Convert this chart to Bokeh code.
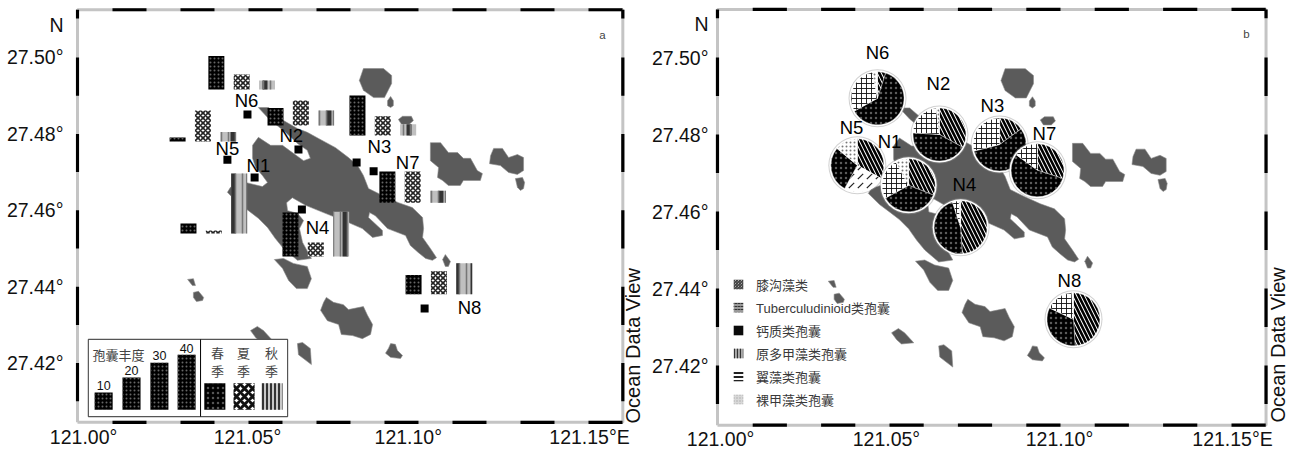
from math import pi
from bokeh.plotting import figure
from bokeh.layouts import row
from bokeh.models import FixedTicker, Label, Legend, LegendItem, ColumnDataSource
from bokeh.core.properties import value
from bokeh.embed import file_html
from bokeh.resources import INLINE

stations = ["N1", "N2", "N3", "N4", "N5", "N6", "N7", "N8"]

# panel a: sampling stations
station_lon = [121.0518, 121.0647, 121.0818, 121.0657, 121.0438, 121.0497, 121.0868, 121.1018]
station_lat = [27.4686, 27.4759, 27.4725, 27.4602, 27.4732, 27.4851, 27.4702, 27.4343]
label_a_lon = [121.0529, 121.0626, 121.0885, 121.0703, 121.0438, 121.0494, 121.0968, 121.1150]
label_a_lat = [27.4717, 27.4796, 27.4767, 27.4555, 27.4762, 27.4887, 27.4725, 27.4345]

# panel a: cyst abundance per season, bars anchored per station
spring = [6.3, 11, 25, 27.5, 2.5, 21, 19.4, 12]
summer = [1.9, 15.6, 12, 8.8, 19.4, 9.4, 19.4, 14.4]
autumn = [37.5, 9.4, 7, 28, 6, 5.6, 7.5, 19.4]
bar_lon = [121.0300, 121.0556, 121.0797, 121.0600, 121.0268, 121.0382, 121.0885, 121.0962]
bar_lat = [27.4539, 27.4822, 27.4796, 27.4479, 27.4780, 27.4916, 27.4620, 27.4380]

# panel b: pie centres, labels and composition (%)
pie_lon = [121.0556, 121.0646, 121.0822, 121.0708, 121.0406, 121.0465, 121.0933, 121.1038]
pie_lat = [27.4668, 27.4800, 27.4774, 27.4559, 27.4720, 27.4894, 27.4707, 27.4320]
label_b_lon = [121.0500, 121.0643, 121.0801, 121.0719, 121.0389, 121.0465, 121.0953, 121.1026]
label_b_lat = [27.4782, 27.4932, 27.4875, 27.4670, 27.4818, 27.5013, 27.4803, 27.4421]
gonyaulacoid = [31, 33, 15, 49, 33, 5, 30, 49]
tuberculo = [0, 0, 0, 0, 25, 0, 0, 0]
calcareous = [36, 43, 56, 46, 28, 62, 55, 33]
protoperidinioid = [25, 22, 29, 4, 0, 30, 15, 17]
pterid = [0, 0, 0, 0, 0, 0, 0, 0]
gymnodinioid = [8, 2, 0, 1, 14, 3, 0, 1]
type_names = ["膝沟藻类", "Tuberculudinioid类孢囊", "钙质类孢囊", "原多甲藻类孢囊", "翼藻类孢囊", "裸甲藻类孢囊"]

# land
coast_lon = [
    [121.0529,121.0559,121.0603,121.0644,121.0673,121.0706,121.0756,121.0794,121.0821,121.0838,121.0853,121.0894,
     121.0941,121.0982,121.1012,121.1015,121.1012,121.1035,121.1053,121.1041,121.1021,121.1000,121.0976,121.0962,
     121.0909,121.0873,121.0856,121.0853,121.0894,121.0894,121.0865,121.0835,121.0794,121.0726,121.0668,121.0629,
     121.0612,121.0615,121.0644,121.0662,121.0650,121.0659,121.0685,121.0644,121.0603,121.0579,121.0556,121.0529,
     121.0500,121.0471,121.0447,121.0438,121.0447,121.0491,121.0541,121.0556,121.0541,121.0521,121.0512,121.0512,
     121.0529,121.0565,121.0600,121.0632,121.0662,121.0682,121.0673,121.0644,121.0609,121.0559],
    [121.0838,121.0897,121.0921,121.0921,121.0900,121.0868,121.0838,121.0826],
    [121.0909,121.0918,121.0926,121.0926,121.0918,121.0909],
    [121.0941,121.0953,121.0979,121.0985,121.0973,121.0950],
    [121.1035,121.1065,121.1088,121.1115,121.1132,121.1153,121.1173,121.1188,121.1182,121.1132,121.1123,121.1088,121.1071,121.1056,121.1059,121.1035],
    [121.1221,121.1247,121.1265,121.1291,121.1309,121.1309,121.1291,121.1265,121.1241,121.1209,121.1212],
    [121.1285,121.1306,121.1312,121.1309,121.1300,121.1291],
    [121.1071,121.1079,121.1094,121.1088,121.1079],
    [121.0576,121.0603,121.0632,121.0673,121.0685,121.0673,121.0641,121.0618,121.0600],
    [121.0729,121.0750,121.0779,121.0794,121.0838,121.0850,121.0865,121.0859,121.0835,121.0806,121.0773,121.0765,121.0732,121.0712,121.0721],
    [121.0918,121.0932,121.0938,121.0953,121.0947,121.0918,121.0903,121.0912],
    [121.0321,121.0338,121.0344,121.0335],
    [121.0338,121.0353,121.0368,121.0365,121.0347,121.0338],
    [121.0506,121.0526,121.0544,121.0571,121.0535,121.0521],
    [121.0644,121.0659,121.0682,121.0685,121.0647],
]
coast_lat = [
    [27.4869,27.4869,27.4835,27.4814,27.4804,27.4788,27.4764,27.4738,27.4717,27.4691,27.4657,27.4639,
     27.4620,27.4607,27.4581,27.4552,27.4529,27.4500,27.4476,27.4469,27.4474,27.4489,27.4508,27.4534,
     27.4552,27.4586,27.4594,27.4581,27.4547,27.4534,27.4529,27.4552,27.4568,27.4592,27.4613,27.4633,
     27.4620,27.4599,27.4592,27.4573,27.4552,27.4516,27.4474,27.4469,27.4500,27.4526,27.4555,27.4579,
     27.4599,27.4618,27.4639,27.4647,27.4660,27.4673,27.4662,27.4673,27.4691,27.4712,27.4736,27.4770,
     27.4791,27.4770,27.4770,27.4749,27.4730,27.4736,27.4757,27.4775,27.4804,27.4840],
    [27.4971,27.4971,27.4953,27.4932,27.4895,27.4895,27.4914,27.4940],
    [27.4887,27.4898,27.4887,27.4874,27.4869,27.4874],
    [27.4838,27.4846,27.4846,27.4835,27.4825,27.4825],
    [27.4777,27.4777,27.4751,27.4751,27.4736,27.4736,27.4704,27.4696,27.4678,27.4678,27.4665,27.4665,27.4678,27.4686,27.4712,27.4730],
    [27.4762,27.4762,27.4738,27.4746,27.4738,27.4704,27.4694,27.4699,27.4717,27.4722,27.4743],
    [27.4683,27.4686,27.4673,27.4657,27.4652,27.4660],
    [27.4471,27.4484,27.4466,27.4453,27.4453],
    [27.4471,27.4474,27.4461,27.4453,27.4421,27.4395,27.4395,27.4416,27.4448],
    [27.4372,27.4359,27.4353,27.4340,27.4348,27.4325,27.4301,27.4275,27.4264,27.4272,27.4275,27.4301,27.4311,27.4338,27.4359],
    [27.4251,27.4249,27.4233,27.4220,27.4212,27.4215,27.4226,27.4239],
    [27.4419,27.4421,27.4403,27.4403],
    [27.4385,27.4388,27.4372,27.4364,27.4361,27.4372],
    [27.4285,27.4296,27.4285,27.4259,27.4256,27.4267],
    [27.4251,27.4254,27.4238,27.4196,27.4222],
]

# axes
x_tick_labels = ["121.00°", "121.05°", "121.10°", "121.15°E"]
y_tick_values = [27.42, 27.44, 27.46, 27.48, 27.50]
y_tick_labels = ["27.42°", "27.44°", "27.46°", "27.48°", "27.50°"]
x_label_pos_a = [121.0015, 121.0497, 121.0970, 121.1503]
x_label_pos_b = [121.0006, 121.0491, 121.0997, 121.1503]
north_lat = 27.5086
lon_dash = [121.01, 121.03, 121.05, 121.07, 121.09, 121.11, 121.13, 121.15]
lat_dash = [27.49, 27.47, 27.45, 27.43, 27.41]
box_lon = [120.9997, 121.1601]
box_lat = [27.4045, 27.5125]

# in-map abundance key
key_values = [10, 20, 30, 40]
key_lon = [121.0074, 121.0156, 121.0238, 121.0318]
key_heights = [0.0045, 0.0084, 0.0123, 0.0144]
key_label_lat = [27.4141, 27.4181, 27.4220, 27.4238]
season_names = ["春", "夏", "秋"]
season_swatch_lon = [121.0401, 121.0487, 121.0569]
season_text_lon = [121.0409, 121.0485, 121.0568]

FONT = "Liberation Sans"
CJK = "Noto Sans CJK SC"
LAND = "#5b5b5b"
deg_per_unit = 0.000419
bar_w = 0.0047
bar_step = 0.00745

SPRING = dict(fill_color="#000000", hatch_pattern="dot", hatch_color="#666666", hatch_scale=4, line_color=None)
SUMMER = dict(fill_color="#ffffff", hatch_pattern="diagonal_cross", hatch_color="#222222", hatch_scale=5, hatch_weight=1.6, line_color=None)
AUTUMN_WIDE = dict(fill_color="#c0c0c0", hatch_pattern="vertical_line", hatch_color="#333333", hatch_scale=16, hatch_weight=5, line_color=None)
AUTUMN_FINE = dict(fill_alpha=0, hatch_pattern="vertical_line", hatch_color="#777777", hatch_scale=7, hatch_weight=1.6, line_color=None)
SPRING_KEY = dict(fill_color="#000000", hatch_pattern="dot", hatch_color="#555555", hatch_scale=5, line_color=None)
SUMMER_KEY = dict(fill_color="#ffffff", hatch_pattern="diagonal_cross", hatch_color="#111111", hatch_scale=8, hatch_weight=3, line_color=None)
AUTUMN_KEY = dict(fill_color="#c8c8c8", hatch_pattern="vertical_line", hatch_color="#333333", hatch_scale=4, hatch_weight=2, line_color=None)

SECTOR = [
    dict(fill_color="#ffffff", hatch_pattern="left_diagonal_line", hatch_color="#000000", hatch_scale=8, hatch_weight=2.6),
    dict(fill_color="#ffffff", hatch_pattern="right_diagonal_dash", hatch_color="#222222", hatch_scale=9, hatch_weight=1.2),
    dict(fill_color="#000000", hatch_pattern="dot", hatch_color="#5a5a5a", hatch_scale=5),
    dict(fill_color="#ffffff", hatch_pattern="cross", hatch_color="#111111", hatch_scale=5, hatch_weight=0.9),
    dict(fill_color="#ffffff", hatch_pattern="horizontal_line", hatch_color="#111111", hatch_scale=5, hatch_weight=1.5),
    dict(fill_color="#ffffff", hatch_pattern="dot", hatch_color="#777777", hatch_scale=4),
]
SWATCH = [
    dict(fill_color="#ffffff", hatch_pattern="left_diagonal_line", hatch_color="#333333", hatch_scale=3, hatch_weight=1.2),
    dict(fill_color="#999999", hatch_pattern="horizontal_dash", hatch_color="#333333", hatch_scale=3, hatch_weight=1.0),
    dict(fill_color="#0a0a0a", hatch_pattern="blank"),
    dict(fill_color="#aaaaaa", hatch_pattern="vertical_line", hatch_color="#333333", hatch_scale=3, hatch_weight=1.2),
    dict(fill_color="#ffffff", hatch_pattern="horizontal_line", hatch_color="#222222", hatch_scale=4, hatch_weight=2.0),
    dict(fill_color="#d8d8d8", hatch_pattern="dot", hatch_color="#aaaaaa", hatch_scale=3),
]


def base_figure(x0, x1, y0, y1, fw, fh, tick_pos, left, bottom, x_standoff, y_standoff):
    p = figure(x_range=(x0, x1), y_range=(y0, y1), frame_width=fw, frame_height=fh,
               output_backend="svg", toolbar_location=None, min_border_left=left, min_border_right=0,
               min_border_top=6, min_border_bottom=bottom, tools="")
    p.grid.visible = False
    p.outline_line_color = None
    p.background_fill_color = "#ffffff"
    for ax, ticks, over in ((p.xaxis[0], tick_pos, dict(zip(tick_pos, x_tick_labels))),
                            (p.yaxis[0], y_tick_values + [north_lat],
                             {**dict(zip(y_tick_values, y_tick_labels)), north_lat: "N"})):
        ax.ticker = FixedTicker(ticks=ticks)
        ax.major_label_overrides = over
        ax.axis_line_color = None
        ax.major_tick_line_color = None
        ax.minor_tick_line_color = None
        ax.major_label_text_font = FONT
        ax.major_label_text_font_size = "19.5px"
        ax.major_label_text_color = "#111111"
    p.xaxis[0].major_label_standoff = x_standoff
    p.yaxis[0].major_label_standoff = y_standoff

    p.patches(coast_lon, coast_lat, fill_color=LAND, line_color="#8a8a8a", line_width=0.6)

    # frame
    p.line([box_lon[0], box_lon[1], box_lon[1], box_lon[0], box_lon[0]],
           [box_lat[0], box_lat[0], box_lat[1], box_lat[1], box_lat[0]],
           line_color="#c4c4c4", line_width=3)
    for yy in box_lat:
        p.segment(lon_dash, [yy] * 8, [v + 0.01 for v in lon_dash], [yy] * 8, line_color="#000000", line_width=3.2)
    for xx in box_lon:
        p.segment([xx] * 5, lat_dash, [xx] * 5, [v + 0.01 for v in lat_dash], line_color="#000000", line_width=3.2)
        p.segment([xx], [27.5102], [xx], [box_lat[1]], line_color="#000000", line_width=3.2)
    return p


def names(p, lons, lats, size=18.5):
    p.text(lons, lats, text=stations, text_font=value(FONT), text_font_size=f"{size}px",
           text_align="center", text_baseline="middle", text_color="#000000")


def ocean(p, lon, lat):
    p.add_layout(Label(x=lon, y=lat, text="Ocean Data View", angle=pi / 2, text_font=FONT,
                       text_font_size="20px", text_align="left", text_baseline="middle", text_color="#111111"))


# ---------- panel a
a = base_figure(120.99912, 121.16765, 27.40366, 27.51335, 573, 419, x_label_pos_a, 75, 27, -6, 6)
for k, (vals, styles) in enumerate(((spring, [SPRING]), (summer, [SUMMER]), (autumn, [AUTUMN_WIDE, AUTUMN_FINE]))):
    xs = [lon + k * bar_step + bar_w / 2 for lon in bar_lon]
    tops = [lat + v * deg_per_unit for lat, v in zip(bar_lat, vals)]
    for style in styles:
        a.vbar(x=xs, bottom=bar_lat, top=tops, width=bar_w, **style)
a.scatter(station_lon, station_lat, marker="square", size=8, fill_color="#000000", line_color="#000000", line_width=0)
names(a, label_a_lon, label_a_lat)
a.add_layout(Label(x=121.1541, y=27.5058, text="a", text_font=FONT, text_font_size="11.5px",
                   text_align="center", text_baseline="middle"))
ocean(a, 121.1632, 27.4042)

# abundance / season key
a.quad(left=[121.0029], right=[121.0615], bottom=[27.4060], top=[27.4262],
       fill_color="#ffffff", line_color="#555555", line_width=1.2)
a.line([121.0359, 121.0359], [27.4060, 27.4262], line_color="#000000", line_width=1)
a.vbar(x=key_lon, bottom=27.4078, top=[27.4078 + h for h in key_heights], width=0.0053, **SPRING)
a.text(key_lon, key_label_lat, text=[str(v) for v in key_values], text_font=value(FONT), text_font_size="12.5px",
       text_align="center", text_baseline="middle", text_color="#111111")
a.text([121.0118], [27.4222], text=["孢囊丰度"], text_font=value(CJK), text_font_size="13px",
       text_align="center", text_baseline="middle", text_color="#444444")
a.text(season_text_lon, [27.4228] * 3, text=season_names, text_font=value(CJK), text_font_size="13px",
       text_align="center", text_baseline="middle", text_color="#444444")
a.text(season_text_lon, [27.4181] * 3, text=["季"] * 3, text_font=value(CJK), text_font_size="13px",
       text_align="center", text_baseline="middle", text_color="#444444")
for lon, style in zip(season_swatch_lon, (SPRING_KEY, SUMMER_KEY, AUTUMN_KEY)):
    a.quad(left=[lon - 0.0031], right=[lon + 0.0031], bottom=[27.4078], top=[27.4147], **style)

# ---------- panel b
b = base_figure(120.99883, 121.16725, 27.4039, 27.51325, 576, 421, x_label_pos_b, 66, 25, -6, 0)
series = [gonyaulacoid, tuberculo, calcareous, protoperidinioid, pterid, gymnodinioid]
for i in (5, 1, 4, 2, 0, 3, 6, 7):
    b.scatter([pie_lon[i]], [pie_lat[i]], marker="circle", size=58, fill_color="#999999", fill_alpha=0.45, line_color=None)
    b.scatter([pie_lon[i]], [pie_lat[i]], marker="circle", size=56, fill_color="#ffffff", line_color=None)
    total = sum(s[i] for s in series)
    run = 0
    for s, style in zip(series, SECTOR):
        if s[i] == 0:
            continue
        start = pi / 2 - 2 * pi * run / total
        run += s[i]
        end = pi / 2 - 2 * pi * run / total
        b.wedge(x=[pie_lon[i]], y=[pie_lat[i]], radius=26.5, radius_units="screen",
                start_angle=start, end_angle=end, direction="clock", line_color="#ffffff", line_width=0.4, **style)
names(b, label_b_lon, label_b_lat)
b.add_layout(Label(x=121.1544, y=27.5060, text="b", text_font=FONT, text_font_size="11.5px",
                   text_align="center", text_baseline="middle"))
ocean(b, 121.1637, 27.4052)

items = []
nan = float("nan")
for name, style in zip(type_names, SWATCH):
    src = ColumnDataSource(data=dict(left=[nan], right=[nan], top=[nan], bottom=[nan]))
    r = b.quad(left="left", right="right", top="top", bottom="bottom", source=src, line_color=None, **style)
    items.append(LegendItem(label=name, renderers=[r]))
legend = Legend(items=items, location=(18, 18), glyph_width=12, glyph_height=12, label_standoff=12, spacing=3,
                label_height=20, padding=0, margin=0, border_line_color=None, background_fill_alpha=0,
                label_text_font="Liberation Sans, Noto Sans CJK SC", label_text_font_size="13px",
                label_text_color="#3a3a3a")
b.add_layout(legend, "center")

page = row(a, b, spacing=0)
open("out.html", "w").write(file_html(page, INLINE))
